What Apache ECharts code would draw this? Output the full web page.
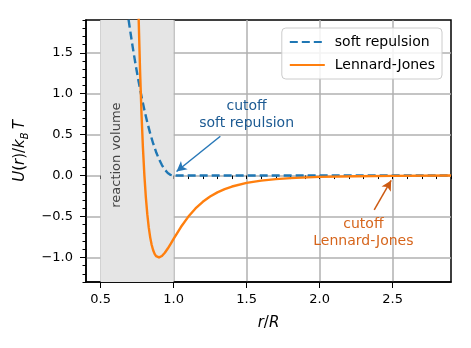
<!DOCTYPE html>
<html>
<head>
<meta charset="utf-8">
<script src="https://cdn.jsdelivr.net/npm/echarts@6.0.0/dist/echarts.min.js"></script>
<style>
  html, body { margin: 0; padding: 0; background: #fff; }
  #chart { width: 471px; height: 348px; }
</style>
</head>
<body>
<div id="chart"></div>
<script>
// r/R values and U(r)/kBT
const softR = [0.68, 0.70, 0.72, 0.74, 0.76, 0.78, 0.80, 0.82, 0.84, 0.86, 0.88, 0.90, 0.92, 0.94, 0.96, 0.98, 1.00, 2.90];
const softU = [2.048, 1.800, 1.568, 1.352, 1.152, 0.968, 0.800, 0.648, 0.512, 0.392, 0.288, 0.200, 0.128, 0.072, 0.032, 0.008, 0.000, 0.000];

const ljR = [0.76, 0.77, 0.78, 0.79, 0.80, 0.81, 0.82, 0.83, 0.84, 0.85, 0.86, 0.87, 0.88, 0.89, 0.90, 0.91, 0.92, 0.94, 0.96, 0.98,
             1.00, 1.05, 1.10, 1.15, 1.20, 1.25, 1.30, 1.35, 1.40, 1.50, 1.60, 1.70, 1.80, 2.00, 2.25, 2.50, 2.90];
const ljU = [1.961, 1.297, 0.764, 0.338, 0.000, -0.267, -0.475, -0.636, -0.758, -0.848, -0.912, -0.956, -0.983, -0.997, -1.000, -0.994, -0.982, -0.942, -0.891, -0.833,
             -0.774, -0.629, -0.504, -0.402, -0.320, -0.256, -0.205, -0.166, -0.134, -0.090, -0.062, -0.043, -0.031, -0.016, -0.008, -0.004, 0.000];

const xTicks = [0.5, 1.0, 1.5, 2.0, 2.5];
const yTicks = [-1.0, -0.5, 0.0, 0.5, 1.0, 1.5];

const seriesNames = ['soft repulsion', 'Lennard-Jones'];

const FONT = 'DejaVu Sans';
const blue = '#1f77b4';
const orange = '#ff7f0e';

function pairs(xs, ys) {
  return xs.map((x, i) => [x, ys[i]]);
}
function fmt(v) {
  return v.toFixed(1).replace('-', '\u2212');
}

const chart = echarts.init(document.getElementById('chart'));

const mainAxis = {
  axisLine: { show: true, onZero: false, lineStyle: { color: '#000', width: 1.5 } },
  axisTick: { show: true, length: 6, lineStyle: { color: '#000', width: 1 } },
  axisLabel: { color: '#000', fontFamily: FONT, fontSize: 13, formatter: fmt },
  splitLine: { show: true, lineStyle: { color: '#b0b0b0', width: 1.5 } }
};

const option = {
  animation: false,
  backgroundColor: '#fff',
  grid: { left: 86, right: 20, top: 20, bottom: 66, show: true, borderColor: '#000', borderWidth: 1.5 },
  legend: {
    data: seriesNames,
    orient: 'vertical',
    right: 29, top: 28,
    padding: [7, 7, 7, 7],
    itemGap: 9,
    itemWidth: 35, itemHeight: 14,
    itemStyle: { opacity: 0 },
    backgroundColor: 'rgba(255,255,255,0.85)',
    borderColor: '#cccccc', borderWidth: 1, borderRadius: 4,
    textStyle: { fontFamily: FONT, fontSize: 14, color: '#000', padding: [0, 0, 0, 5] }
  },
  xAxis: [
    Object.assign({}, mainAxis, {
      type: 'value', min: 0.4, max: 2.9, position: 'bottom',
      axisTick: Object.assign({}, mainAxis.axisTick, { customValues: xTicks }),
      axisLabel: Object.assign({}, mainAxis.axisLabel, { customValues: xTicks, margin: 11 }),
      name: '{i|r}{n|/}{i|R}', nameLocation: 'middle', nameGap: 34,
      nameTextStyle: {
        rich: {
          i: { fontFamily: FONT, fontStyle: 'italic', fontSize: 15, color: '#000' },
          n: { fontFamily: FONT, fontSize: 15, color: '#000' }
        }
      }
    }),
    {
      type: 'value', min: 0.4, max: 2.9, interval: 0.1, position: 'bottom',
      axisLine: { show: false }, axisLabel: { show: false }, splitLine: { show: false },
      axisTick: { show: true, length: 3.5, lineStyle: { color: '#000', width: 1 } }
    }
  ],
  yAxis: [
    Object.assign({}, mainAxis, {
      type: 'value', min: -1.3, max: 1.9, position: 'left',
      axisTick: Object.assign({}, mainAxis.axisTick, { customValues: yTicks }),
      axisLabel: Object.assign({}, mainAxis.axisLabel, { customValues: yTicks, margin: 13 }),
      name: '{i|U}{n|(}{i|r}{n|)/}{i|k}{b|B}{i|T}', nameLocation: 'middle', nameGap: 56, nameRotate: 90,
      nameTextStyle: {
        rich: {
          i: { fontFamily: FONT, fontStyle: 'italic', fontSize: 15, color: '#000', lineHeight: 20 },
          n: { fontFamily: FONT, fontSize: 15, color: '#000', lineHeight: 20 },
          b: { fontFamily: FONT, fontStyle: 'italic', fontSize: 10, color: '#000', lineHeight: 20, verticalAlign: 'bottom', padding: [0, 3, 0, 0] }
        }
      }
    }),
    {
      type: 'value', min: -1.3, max: 1.9, interval: 0.1, position: 'left',
      axisLine: { show: false }, axisLabel: { show: false }, splitLine: { show: false },
      axisTick: { show: true, length: 3.5, lineStyle: { color: '#000', width: 1 } }
    }
  ],
  series: [
    {
      // shaded reaction volume, below the grid lines
      name: 'reaction volume',
      type: 'line',
      z: -1,
      data: [],
      silent: true,
      markArea: {
        silent: true,
        itemStyle: { color: '#e5e5e5' },
        data: [[{ xAxis: 0.5 }, { xAxis: 1.0 }]]
      },
      markPoint: {
        silent: true,
        symbolSize: 0,
        data: [{
          coord: [0.607, 0.25],
          label: {
            show: true, position: 'inside', formatter: 'reaction volume', rotate: 90,
            fontFamily: FONT, fontSize: 13, color: '#444'
          }
        }]
      }
    },
    {
      name: seriesNames[0],
      type: 'line',
      data: pairs(softR, softU),
      symbol: 'none',
      clip: true,
      color: blue,
      lineStyle: { color: blue, width: 2.4, type: [8, 4], join: 'round' },
      markLine: {
        silent: true,
        symbol: ['none', 'arrow'], symbolSize: [8, 10],
        label: { show: false },
        lineStyle: { color: '#2878b8', width: 1.5, type: 'solid' },
        data: [[{ coord: [1.32, 0.48] }, { coord: [1.02, 0.05] }]]
      },
      markPoint: {
        silent: true,
        symbolSize: 0,
        data: [{
          coord: [1.5, 0.74],
          label: {
            show: true, position: 'inside', formatter: 'cutoff\nsoft repulsion', align: 'center',
            fontFamily: FONT, fontSize: 14, lineHeight: 17, color: '#1c5a92'
          }
        }]
      }
    },
    {
      name: seriesNames[1],
      type: 'line',
      data: pairs(ljR, ljU),
      symbol: 'none',
      clip: true,
      color: orange,
      lineStyle: { color: orange, width: 2.4, join: 'round' },
      markLine: {
        silent: true,
        symbol: ['none', 'arrow'], symbolSize: [8, 10],
        label: { show: false },
        lineStyle: { color: '#cc5a12', width: 1.5, type: 'solid' },
        data: [[{ coord: [2.374, -0.42] }, { coord: [2.49, -0.06] }]]
      },
      markPoint: {
        silent: true,
        symbolSize: 0,
        data: [{
          coord: [2.3, -0.70],
          label: {
            show: true, position: 'inside', formatter: 'cutoff\nLennard-Jones', align: 'center',
            fontFamily: FONT, fontSize: 14, lineHeight: 17, color: '#d6651c'
          }
        }]
      }
    }
  ]
};

chart.setOption(option);
</script>
</body>
</html>
